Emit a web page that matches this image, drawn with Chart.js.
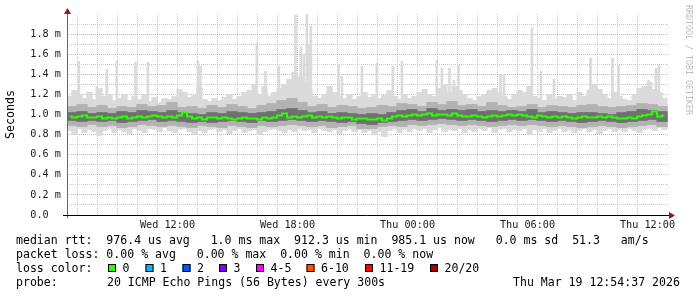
<!DOCTYPE html>
<html>
<head>
<meta charset="utf-8">
<script src="https://cdn.jsdelivr.net/npm/chart.js@4/dist/chart.umd.min.js"></script>
<style>
  html, body { margin: 0; padding: 0; background: #fff; }
  canvas { display: block; }
</style>
</head>
<body>
<canvas id="smoke" width="697" height="297"></canvas>
<script>
// time axis in hours since Wed 00:00
const tickHours = [12, 18, 24, 30, 36];
const tickLabels = ["Wed 12:00", "Wed 18:00", "Thu 00:00", "Thu 06:00", "Thu 12:00"];
const fineStart = 7.1;   // first 15 min column centre
const fineStep = 0.25;
const coarseStart = 7.225; // first 30 min column centre
const coarseStep = 0.5;

// median rtt, ms (15 min columns)
const median = [
  0.98,0.97,0.98,0.99,0.97,0.97,0.98,0.96,0.97,0.96,
  0.97,0.98,0.96,0.97,0.98,0.97,0.98,0.99,0.98,0.97,
  0.98,0.97,0.99,1.02,0.98,0.96,0.97,0.95,0.97,0.97,
  0.96,0.97,0.96,0.95,0.96,0.97,0.96,0.96,0.95,0.97,
  0.96,0.97,0.99,1.01,0.97,0.98,0.97,0.98,0.99,0.97,
  0.98,0.97,0.98,0.97,0.96,0.97,0.97,0.95,0.96,0.96,
  0.95,0.95,0.96,0.94,0.96,0.98,0.99,0.98,0.99,1.00,
  0.99,1.00,1.01,0.99,1.00,1.00,0.99,1.01,0.99,0.98,
  0.98,0.99,0.98,0.97,0.98,0.99,0.98,0.99,1.00,0.99,
  1.00,0.99,0.98,0.97,0.99,0.98,0.97,0.98,0.97,0.98,
  0.97,0.96,0.97,0.98,0.97,0.97,0.98,0.97,0.98,0.97,
  0.96,0.96,0.97,0.96,0.98,0.99,1.00,1.03,0.98,0.99
];
// slowest ping per column
const maxRtt = [
  1.18,1.24,1.20,1.16,1.22,1.15,1.26,1.18,1.20,1.14,
  1.16,1.20,1.14,1.18,1.15,1.20,1.13,1.17,1.12,1.16,
  1.15,1.18,1.25,1.22,1.17,1.19,1.26,1.15,1.13,1.16,
  1.14,1.17,1.20,1.15,1.18,1.22,1.24,1.30,1.20,1.28,
  1.18,1.22,1.26,1.30,1.35,1.42,1.38,1.32,1.25,1.18,
  1.16,1.20,1.28,1.22,1.18,1.16,1.20,1.15,1.18,1.22,
  1.17,1.20,1.16,1.19,1.24,1.18,1.15,1.20,1.16,1.18,
  1.22,1.25,1.20,1.18,1.26,1.30,1.22,1.28,1.24,1.20,
  1.16,1.14,1.18,1.20,1.24,1.26,1.22,1.18,1.15,1.20,
  1.24,1.22,1.28,1.18,1.16,1.14,1.20,1.15,1.18,1.17,
  1.20,1.14,1.22,1.18,1.24,1.30,1.25,1.20,1.16,1.22,
  1.18,1.15,1.14,1.20,1.26,1.28,1.32,1.25,1.22,1.16
];
// fastest ping per column
const minRtt = [
  0.84,0.80,0.86,0.82,0.85,0.83,0.79,0.84,0.86,0.82,
  0.85,0.83,0.81,0.86,0.84,0.82,0.86,0.85,0.83,0.87,
  0.84,0.82,0.85,0.86,0.83,0.80,0.84,0.82,0.85,0.86,
  0.83,0.85,0.81,0.84,0.86,0.82,0.84,0.85,0.80,0.83,
  0.85,0.86,0.84,0.82,0.85,0.83,0.86,0.84,0.85,0.82,
  0.86,0.84,0.83,0.85,0.81,0.84,0.86,0.83,0.85,0.82,
  0.84,0.80,0.83,0.78,0.84,0.86,0.82,0.85,0.83,0.86,
  0.84,0.86,0.82,0.85,0.87,0.83,0.85,0.84,0.86,0.82,
  0.85,0.83,0.86,0.84,0.87,0.82,0.85,0.86,0.83,0.85,
  0.84,0.86,0.80,0.85,0.83,0.86,0.82,0.84,0.86,0.83,
  0.85,0.82,0.84,0.86,0.83,0.85,0.81,0.84,0.86,0.83,
  0.85,0.83,0.86,0.84,0.82,0.85,0.86,0.84,0.87,0.85
];
// inner smoke (30 min columns)
const outerHi = [
  1.08,1.10,1.07,1.09,1.06,1.08,1.07,1.10,1.08,1.09,
  1.12,1.07,1.08,1.06,1.09,1.07,1.10,1.08,1.06,1.09,
  1.11,1.14,1.16,1.12,1.08,1.10,1.07,1.09,1.08,1.06,
  1.07,1.09,1.08,1.11,1.10,1.08,1.12,1.10,1.13,1.09,
  1.10,1.08,1.12,1.09,1.07,1.08,1.10,1.07,1.09,1.08,
  1.07,1.09,1.10,1.08,1.07,1.08,1.09,1.11,1.10,1.08
];
const innerHi = [
  1.02,1.03,1.01,1.02,1.01,1.03,1.02,1.04,1.03,1.02,
  1.04,1.02,1.01,1.00,1.02,1.01,1.03,1.02,1.01,1.02,
  1.03,1.05,1.06,1.04,1.02,1.03,1.01,1.02,1.01,1.00,
  1.01,1.00,1.02,1.04,1.05,1.03,1.06,1.04,1.05,1.04,
  1.05,1.03,1.04,1.03,1.04,1.03,1.05,1.02,1.03,1.02,
  1.01,1.02,1.02,1.01,1.00,1.02,1.03,1.05,1.04,1.03
];
const innerLo = [
  0.94,0.93,0.94,0.93,0.94,0.92,0.93,0.94,0.95,0.93,
  0.94,0.93,0.92,0.93,0.92,0.93,0.94,0.93,0.92,0.94,
  0.93,0.94,0.95,0.94,0.93,0.94,0.93,0.92,0.93,0.91,
  0.90,0.92,0.93,0.94,0.95,0.94,0.95,0.96,0.95,0.94,
  0.95,0.94,0.93,0.94,0.95,0.94,0.95,0.94,0.93,0.94,
  0.93,0.92,0.93,0.94,0.93,0.92,0.93,0.94,0.95,0.93
];
const outerLo = [
  0.89,0.88,0.90,0.88,0.89,0.87,0.88,0.90,0.89,0.88,
  0.89,0.88,0.87,0.89,0.88,0.87,0.89,0.88,0.87,0.89,
  0.88,0.89,0.90,0.89,0.88,0.89,0.87,0.88,0.89,0.86,
  0.86,0.88,0.89,0.88,0.90,0.89,0.90,0.91,0.90,0.89,
  0.90,0.89,0.88,0.89,0.90,0.89,0.90,0.89,0.88,0.89,
  0.88,0.87,0.88,0.89,0.88,0.87,0.88,0.89,0.90,0.88
];
// single slow pings
const spikeHours = [7.57,8.47,8.97,9.47,10.4,11.02,13.52,13.65,16.47,16.9,17.57,18.02,18.4,18.67,18.82,18.97,19.05,19.17,
  20.55,20.72,21.72,22.47,23.27,23.72,25.47,25.72,26.1,26.32,26.55,28.65,28.82,30.22,30.67,31.32,33.15,34.25,34.55,36.05,36.42,36.57];
const spikeTops = [1.53,1.28,1.45,1.53,1.52,1.52,1.53,1.48,1.71,1.43,1.48,1.34,1.99,1.67,1.60,2.0,1.69,1.88,
  1.50,1.38,1.48,1.51,1.48,1.53,1.54,1.46,1.46,1.34,1.49,1.40,1.40,1.86,1.43,1.35,1.56,1.56,1.49,1.34,1.46,1.49];

const lossLabels = ["0", "1", "2", "3", "4-5", "6-10", "11-19", "20/20"];
const lossColors = ["#26ff00", "#00b8ff", "#0059ff", "#7e00ff", "#ff00ff", "#ff5500", "#ff0000", "#a10000"];

const legendLines = [
  "median rtt:  976.4 us avg   1.0 ms max  912.3 us min  985.1 us now   0.0 ms sd  51.3   am/s",
  "packet loss: 0.00 % avg   0.00 % max  0.00 % min  0.00 % now"
];

const fineX = median.map((_, i) => fineStart + i * fineStep);
const coarseX = outerHi.map((_, i) => coarseStart + i * coarseStep);
const band = (xs, lo, hi) => xs.map((x, i) => ({ x: x, y: [lo[i], hi[i]] }));

const MONO = "'DejaVu Sans Mono', monospace";

const overlay = {
  id: "overlay",
  afterDraw(chart) {
    const ctx = chart.ctx;
    const a = chart.chartArea;
    ctx.save();
    // axes
    ctx.lineWidth = 1;
    ctx.strokeStyle = "#666";
    ctx.beginPath();
    ctx.moveTo(a.left + 0.5, a.bottom + 3);
    ctx.lineTo(a.left + 0.5, a.top - 2);
    ctx.stroke();
    ctx.strokeStyle = "#000";
    ctx.beginPath();
    ctx.moveTo(a.left - 4, Math.round(a.bottom) + 0.5);
    ctx.lineTo(a.right + 1, Math.round(a.bottom) + 0.5);
    ctx.stroke();
    ctx.fillStyle = "#8c1c1c";
    ctx.beginPath();
    ctx.moveTo(a.left - 3, a.top);
    ctx.lineTo(a.left + 4, a.top);
    ctx.lineTo(a.left + 0.5, a.top - 6);
    ctx.fill();
    ctx.beginPath();
    ctx.moveTo(a.right, a.bottom - 3);
    ctx.lineTo(a.right, a.bottom + 4);
    ctx.lineTo(a.right + 6, a.bottom + 0.5);
    ctx.fill();

    // watermark
    ctx.fillStyle = "#bdbdbd";
    ctx.font = "8.3px " + MONO;
    ctx.textBaseline = "middle";
    ctx.translate(688, 5);
    ctx.rotate(Math.PI / 2);
    ctx.fillText("RRDTOOL / TOBI OETIKER", 0, 0);
    ctx.setTransform(1, 0, 0, 1, 0, 0);

    // legend block
    ctx.fillStyle = "#000";
    ctx.font = "11.55px " + MONO;
    ctx.textBaseline = "middle";
    const put = (s, x, y) => ctx.fillText(s, x, y);
    put(legendLines[0], 16, 241);
    put(legendLines[1], 16, 255);

    put("loss color:", 16, 268.5);
    const boxX = [108, 145.5, 182.5, 219, 256, 306.5, 365, 430];
    lossLabels.forEach((lab, i) => {
      ctx.fillStyle = lossColors[i];
      ctx.fillRect(boxX[i], 264, 8, 8);
      ctx.strokeStyle = "#000";
      ctx.strokeRect(boxX[i] + 0.5, 264.5, 7, 7);
      ctx.fillStyle = "#000";
      put(lab, boxX[i] + 14.5, 268.5);
    });

    put("probe:", 16, 282.5);
    put("20 ICMP Echo Pings (56 Bytes) every 300s", 107, 282.5);
    put("Thu Mar 19 12:54:37 2026", 513, 282.5);
    ctx.restore();
  }
};

new Chart(document.getElementById("smoke"), {
  type: "line",
  data: {
    datasets: [
      {
        type: "line",
        label: "median",
        data: fineX.map((x, i) => ({ x: x, y: median[i] })),
        borderColor: "#26ff00",
        borderWidth: 2,
        pointRadius: 0,
        stepped: "middle",
        order: 0
      },
      {
        type: "bar",
        label: "inner",
        data: band(coarseX, innerLo, innerHi),
        backgroundColor: "#707070",
        barThickness: 10.6,
        grouped: false,
        borderWidth: 0,
        order: 1
      },
      {
        type: "bar",
        label: "outer",
        data: band(coarseX, outerLo, outerHi),
        backgroundColor: "#b2b2b2",
        barThickness: 10.6,
        grouped: false,
        borderWidth: 0,
        order: 2
      },
      {
        type: "bar",
        label: "range",
        data: band(fineX, minRtt, maxRtt),
        backgroundColor: "#dadada",
        barThickness: 5.6,
        grouped: false,
        borderWidth: 0,
        order: 3
      },
      {
        type: "bar",
        label: "spikes",
        data: spikeHours.map((x, i) => ({ x: x, y: [1.0, spikeTops[i]] })),
        backgroundColor: "#dadada",
        barThickness: 2,
        grouped: false,
        borderWidth: 0,
        order: 4
      }
    ]
  },
  options: {
    responsive: false,
    animation: false,
    devicePixelRatio: 1,
    layout: { padding: { left: 0, right: 28, top: 14, bottom: 62 } },
    plugins: { legend: { display: false }, tooltip: { enabled: false } },
    scales: {
      x: {
        type: "linear",
        offset: false,
        min: 6.975,
        max: 37.075,
        afterFit: (s) => { s.height = 20; },
        border: { display: false, dash: [1, 1] },
        grid: {
          drawTicks: false,
          tickLength: 0,
          color: (c) => {
            const v = c.tick ? c.tick.value : 0;
            if (Math.abs(v - Math.round(v)) > 1e-6) return "rgba(0,0,0,0)";
            return Math.round(v) % 3 === 0 ? "rgba(225,100,100,0.55)" : "#c8c8c8";
          }
        },
        ticks: {
          stepSize: 1,
          autoSkip: false,
          maxRotation: 0,
          minRotation: 0,
          padding: 4,
          color: "#1a1a1a",
          font: { family: MONO, size: 10.2 },
          callback: (v) => {
            const k = tickHours.indexOf(Math.round(v));
            return k >= 0 && Math.abs(v - Math.round(v)) < 1e-6 ? tickLabels[k] : "";
          }
        }
      },
      y: {
        min: 0,
        max: 2.0,
        afterFit: (s) => { s.width = 67; },
        border: { display: false, dash: [1, 1] },
        grid: {
          drawTicks: false,
          tickLength: 0,
          color: (c) => {
            const r = c.tick ? Math.round(c.tick.value * 10) : 0;
            if (r === 0 || r >= 20) return "rgba(0,0,0,0)";
            return r % 2 === 0 ? "rgba(225,100,100,0.55)" : "#c8c8c8";
          }
        },
        ticks: {
          stepSize: 0.1,
          autoSkip: false,
          padding: 6,
          color: "#1a1a1a",
          font: { family: MONO, size: 10.2 },
          callback: (v) => {
            const r = Math.round(v * 10);
            if (r % 2 !== 0 || r > 18) return "";
            return r === 0 ? "0.0  " : (r / 10).toFixed(1) + " m";
          }
        },
        title: {
          display: true,
          text: "Seconds",
          color: "#000",
          font: { family: MONO, size: 11.6 },
          padding: { top: 4, bottom: 4 }
        }
      }
    }
  },
  plugins: [overlay]
});
</script>
</body>
</html>
